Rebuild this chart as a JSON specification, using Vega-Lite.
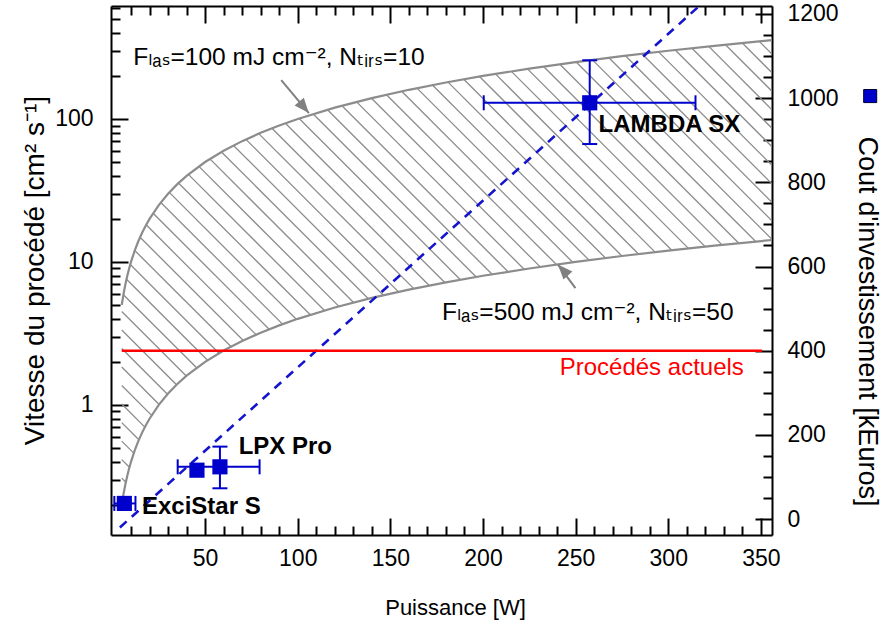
{
  "$schema": "https://vega.github.io/schema/vega-lite/v6.json",
  "width": 661,
  "height": 529,
  "autosize": "none",
  "padding": {"left": 111, "top": 6, "right": 112, "bottom": 93},
  "background": "white",
  "config": {
    "view": {"stroke": null},
    "axis": {
      "grid": false,
      "ticks": true,
      "tickColor": "black",
      "tickWidth": 2,
      "domainColor": "black",
      "domainWidth": 2,
      "labelColor": "black",
      "titleColor": "black",
      "labelFont": "Liberation Sans, Arial",
      "labelFontSize": 23,
      "titleFont": "Liberation Sans, Arial",
      "titleFontWeight": "normal",
      "zindex": 1,
      "labelOverlap": false,
      "labelFlush": false
    }
  },
  "datasets": {
    "curve": [
      {"P": 5, "up": 5, "lo": 0.2}, {"P": 6, "up": 6, "lo": 0.24}, {"P": 7, "up": 7, "lo": 0.28},
      {"P": 8, "up": 8, "lo": 0.32}, {"P": 9, "up": 9, "lo": 0.36}, {"P": 10, "up": 10, "lo": 0.4},
      {"P": 12, "up": 12, "lo": 0.48}, {"P": 14, "up": 14, "lo": 0.56}, {"P": 16, "up": 16, "lo": 0.64},
      {"P": 18, "up": 18, "lo": 0.72}, {"P": 20, "up": 20, "lo": 0.8}, {"P": 25, "up": 25, "lo": 1},
      {"P": 30, "up": 30, "lo": 1.2}, {"P": 35, "up": 35, "lo": 1.4}, {"P": 40, "up": 40, "lo": 1.6},
      {"P": 50, "up": 50, "lo": 2}, {"P": 60, "up": 60, "lo": 2.4}, {"P": 70, "up": 70, "lo": 2.8},
      {"P": 80, "up": 80, "lo": 3.2}, {"P": 90, "up": 90, "lo": 3.6}, {"P": 100, "up": 100, "lo": 4},
      {"P": 120, "up": 120, "lo": 4.8}, {"P": 140, "up": 140, "lo": 5.6}, {"P": 160, "up": 160, "lo": 6.4},
      {"P": 180, "up": 180, "lo": 7.2}, {"P": 200, "up": 200, "lo": 8}, {"P": 225, "up": 225, "lo": 9},
      {"P": 250, "up": 250, "lo": 10}, {"P": 275, "up": 275, "lo": 11}, {"P": 300, "up": 300, "lo": 12},
      {"P": 325, "up": 325, "lo": 13}, {"P": 356, "up": 356, "lo": 14.24}
    ],
    "hatch": [
      {"P1": 5, "v1": 0.2282, "P2": 5.60, "v2": 0.224},
      {"P1": 5, "v1": 0.3075, "P2": 7.20, "v2": 0.288},
      {"P1": 5, "v1": 0.4144, "P2": 9.15, "v2": 0.366},
      {"P1": 5, "v1": 0.5581, "P2": 11.49, "v2": 0.4596},
      {"P1": 5, "v1": 0.7520, "P2": 14.26, "v2": 0.5704},
      {"P1": 5, "v1": 1.0134, "P2": 17.47, "v2": 0.6988},
      {"P1": 5, "v1": 1.3653, "P2": 21.11, "v2": 0.8444},
      {"P1": 5, "v1": 1.8399, "P2": 25.19, "v2": 1.0076},
      {"P1": 5, "v1": 2.4796, "P2": 29.68, "v2": 1.1872},
      {"P1": 5, "v1": 3.3413, "P2": 34.57, "v2": 1.3828},
      {"P1": 5, "v1": 4.5019, "P2": 39.83, "v2": 1.5932},
      {"P1": 5.90, "v1": 5.90, "P2": 45.42, "v2": 1.8168},
      {"P1": 7.57, "v1": 7.57, "P2": 51.33, "v2": 2.0532},
      {"P1": 9.59, "v1": 9.59, "P2": 57.51, "v2": 2.3004},
      {"P1": 12.02, "v1": 12.02, "P2": 63.95, "v2": 2.558},
      {"P1": 14.88, "v1": 14.88, "P2": 70.62, "v2": 2.8248},
      {"P1": 18.18, "v1": 18.18, "P2": 77.50, "v2": 3.1},
      {"P1": 21.91, "v1": 21.91, "P2": 84.58, "v2": 3.3832},
      {"P1": 26.08, "v1": 26.08, "P2": 91.81, "v2": 3.6724},
      {"P1": 30.65, "v1": 30.65, "P2": 99.22, "v2": 3.9688},
      {"P1": 35.62, "v1": 35.62, "P2": 106.77, "v2": 4.2708},
      {"P1": 40.95, "v1": 40.95, "P2": 114.44, "v2": 4.5776},
      {"P1": 46.61, "v1": 46.61, "P2": 122.23, "v2": 4.8892},
      {"P1": 52.58, "v1": 52.58, "P2": 130.13, "v2": 5.2052},
      {"P1": 58.82, "v1": 58.82, "P2": 138.13, "v2": 5.5252},
      {"P1": 65.31, "v1": 65.31, "P2": 146.22, "v2": 5.8488},
      {"P1": 72.02, "v1": 72.02, "P2": 154.40, "v2": 6.176},
      {"P1": 78.95, "v1": 78.95, "P2": 162.65, "v2": 6.506},
      {"P1": 86.06, "v1": 86.06, "P2": 170.97, "v2": 6.8388},
      {"P1": 93.33, "v1": 93.33, "P2": 179.37, "v2": 7.1748},
      {"P1": 100.77, "v1": 100.77, "P2": 187.83, "v2": 7.5132},
      {"P1": 108.35, "v1": 108.35, "P2": 196.34, "v2": 7.8536},
      {"P1": 116.04, "v1": 116.04, "P2": 204.91, "v2": 8.1964},
      {"P1": 123.86, "v1": 123.86, "P2": 213.53, "v2": 8.5412},
      {"P1": 131.78, "v1": 131.78, "P2": 222.20, "v2": 8.888},
      {"P1": 139.80, "v1": 139.80, "P2": 230.90, "v2": 9.236},
      {"P1": 147.90, "v1": 147.90, "P2": 239.65, "v2": 9.586},
      {"P1": 156.10, "v1": 156.10, "P2": 248.45, "v2": 9.938},
      {"P1": 164.37, "v1": 164.37, "P2": 257.27, "v2": 10.2908},
      {"P1": 172.70, "v1": 172.70, "P2": 266.13, "v2": 10.6452},
      {"P1": 181.11, "v1": 181.11, "P2": 275.02, "v2": 11.0008},
      {"P1": 189.59, "v1": 189.59, "P2": 283.94, "v2": 11.3576},
      {"P1": 198.11, "v1": 198.11, "P2": 292.89, "v2": 11.7156},
      {"P1": 206.69, "v1": 206.69, "P2": 301.91, "v2": 12.0764},
      {"P1": 215.32, "v1": 215.32, "P2": 310.92, "v2": 12.4368},
      {"P1": 224.00, "v1": 224.00, "P2": 319.96, "v2": 12.7984},
      {"P1": 232.71, "v1": 232.71, "P2": 329.02, "v2": 13.1608},
      {"P1": 241.47, "v1": 241.47, "P2": 338.10, "v2": 13.524},
      {"P1": 250.27, "v1": 250.27, "P2": 347.20, "v2": 13.888},
      {"P1": 259.10, "v1": 259.10, "P2": 356.32, "v2": 14.2528},
      {"P1": 267.97, "v1": 267.97, "P2": 365.45, "v2": 14.618},
      {"P1": 276.87, "v1": 276.87, "P2": 374.6, "v2": 14.984},
      {"P1": 285.79, "v1": 285.79, "P2": 383.8, "v2": 15.352},
      {"P1": 294.75, "v1": 294.75, "P2": 393.0, "v2": 15.72},
      {"P1": 303.77, "v1": 303.77, "P2": 402.2, "v2": 16.088},
      {"P1": 312.79, "v1": 312.79, "P2": 411.4, "v2": 16.456},
      {"P1": 321.83, "v1": 321.83, "P2": 420.6, "v2": 16.824},
      {"P1": 330.90, "v1": 330.90, "P2": 429.9, "v2": 17.196},
      {"P1": 339.98, "v1": 339.98, "P2": 439.1, "v2": 17.564},
      {"P1": 349.09, "v1": 349.09, "P2": 448.4, "v2": 17.936}
    ],
    "arrows": [
      {"id": "a", "x1": 91.1, "y1": 187, "x2": 106, "y2": 110},
      {"id": "b", "x1": 249.9, "y1": 6.55, "x2": 240.4, "y2": 9.6}
    ],
    "notes": [
      {"P": 11.2, "v": 267, "label": "Fₗₐₛ=100 mJ cm⁻², Nₜᵢᵣₛ=10"},
      {"P": 177.9, "v": 4.38, "label": "Fₗₐₛ=500 mJ cm⁻², Nₜᵢᵣₛ=50"}
    ],
    "fit": [{"P": 4, "C": -20}, {"P": 320, "C": 1232}],
    "current": [{"P1": 5, "P2": 350.7, "C": 400}],
    "currentLabel": [{"P": 340.8, "C": 358, "label": "Procédés actuels"}],
    "machines": [
      {"P": 257.6, "C": 989}, {"P": 58, "C": 124}, {"P": 45.6, "C": 116}, {"P": 6.4, "C": 37}
    ],
    "hbars": [
      {"C": 989, "Plo": 200.4, "Phi": 314.7},
      {"C": 124, "Plo": 35.2, "Phi": 79.4},
      {"C": 37, "Plo": 1, "Phi": 12.4}
    ],
    "vbars": [
      {"P": 257.6, "Clo": 891, "Chi": 1090},
      {"P": 58, "Clo": 73, "Chi": 172}
    ],
    "names": [
      {"P": 262.4, "C": 936, "label": "LAMBDA SX"},
      {"P": 68.1, "C": 172, "label": "LPX Pro"},
      {"P": 15.9, "C": 29, "label": "ExciStar S"}
    ],
    "legendSym": [{"P": 409, "C": 1005}]
  },
  "layer": [
    {
      "resolve": {"axis": {"x": "independent", "y": "independent"}},
      "layer": [
        {
          "data": {"name": "hatch"},
          "mark": {"type": "rule", "color": "#8c8c8c", "strokeWidth": 1.3, "clip": true},
          "encoding": {
            "x": {
              "field": "P1", "type": "quantitative",
              "scale": {"domain": [-0.8, 356], "nice": false, "zero": false},
              "axis": {
                "orient": "bottom",
                "values": [50, 100, 150, 200, 250, 300, 350],
                "tickSize": -17,
                "labelPadding": 29,
                "title": "Puissance [W]",
                "titleFontSize": 22,
                "titleX": 344,
                "titleY": 72,
                "titleBaseline": "middle"
              }
            },
            "x2": {"field": "P2"},
            "y": {
              "field": "v1", "type": "quantitative",
              "scale": {"type": "log", "domain": [0.123, 617], "nice": false},
              "axis": {
                "orient": "left",
                "values": [1, 10, 100],
                "format": "d",
                "tickSize": -17,
                "labelPadding": 35,
                "title": "Vitesse du procédé [cm² s⁻¹]",
                "titleFontSize": 28,
                "titleAngle": 270,
                "titleX": -76,
                "titleY": 264,
                "titleAlign": "center",
                "titleBaseline": "middle"
              }
            },
            "y2": {"field": "v2"}
          }
        },
        {
          "data": {"name": "curve"},
          "mark": {"type": "line", "color": "#8c8c8c", "strokeWidth": 2.2, "clip": true},
          "encoding": {
            "x": {
              "field": "P", "type": "quantitative",
              "axis": {
                "orient": "bottom",
                "values": [10,20,30,40,60,70,80,90,110,120,130,140,160,170,180,190,210,220,230,240,260,270,280,290,310,320,330,340],
                "tickSize": -9,
                "labels": false,
                "domain": false,
                "title": null
              }
            },
            "y": {
              "field": "up", "type": "quantitative",
              "axis": {
                "orient": "left",
                "values": [0.2,0.3,0.4,0.5,0.6,0.7,0.8,0.9,2,3,4,5,6,7,8,9,20,30,40,50,60,70,80,90,200,300,400,500,600],
                "tickSize": -9,
                "labels": false,
                "domain": false,
                "title": null
              }
            }
          }
        },
        {
          "data": {"name": "curve"},
          "mark": {"type": "line", "color": "#8c8c8c", "strokeWidth": 2.2, "clip": true},
          "encoding": {
            "x": {"field": "P", "type": "quantitative", "axis": null},
            "y": {"field": "lo", "type": "quantitative", "axis": null}
          }
        },
        {
          "data": {"name": "arrows"},
          "mark": {"type": "rule", "color": "#808080", "strokeWidth": 2},
          "encoding": {
            "x": {"field": "x1", "type": "quantitative", "axis": null},
            "y": {"field": "y1", "type": "quantitative", "axis": null},
            "x2": {"field": "x2"},
            "y2": {"field": "y2"}
          }
        },
        {
          "data": {"name": "arrows"},
          "transform": [{"filter": "datum.id === 'a'"}],
          "mark": {"type": "point", "shape": "M0,0L-0.4,-1L0.4,-1Z", "filled": true, "color": "#808080", "opacity": 1, "size": 900, "angle": 320},
          "encoding": {
            "x": {"field": "x2", "type": "quantitative", "axis": null},
            "y": {"field": "y2", "type": "quantitative", "axis": null}
          }
        },
        {
          "data": {"name": "arrows"},
          "transform": [{"filter": "datum.id === 'b'"}],
          "mark": {"type": "point", "shape": "M0,0L-0.4,-1L0.4,-1Z", "filled": true, "color": "#808080", "opacity": 1, "size": 900, "angle": 137.6},
          "encoding": {
            "x": {"field": "x2", "type": "quantitative", "axis": null},
            "y": {"field": "y2", "type": "quantitative", "axis": null}
          }
        },
        {
          "data": {"name": "notes"},
          "mark": {"type": "text", "align": "left", "baseline": "middle", "font": "Liberation Sans, DejaVu Sans", "fontSize": 24.5, "color": "black"},
          "encoding": {
            "x": {"field": "P", "type": "quantitative", "axis": null},
            "y": {"field": "v", "type": "quantitative", "axis": null},
            "text": {"field": "label"}
          }
        }
      ]
    },
    {
      "resolve": {"axis": {"x": "independent", "y": "independent"}},
      "layer": [
        {
          "data": {"name": "fit"},
          "mark": {"type": "line", "color": "#1414cc", "strokeWidth": 2.6, "strokeDash": [9, 7], "clip": true},
          "encoding": {
            "x": {
              "field": "P", "type": "quantitative",
              "scale": {"domain": [-0.8, 356], "nice": false, "zero": false},
              "axis": {
                "orient": "top",
                "values": [50, 100, 150, 200, 250, 300, 350],
                "tickSize": -17,
                "labels": false,
                "title": null
              }
            },
            "y": {
              "field": "C", "type": "quantitative",
              "scale": {"domain": [-38, 1219], "nice": false, "zero": false},
              "axis": {
                "orient": "right",
                "values": [0, 200, 400, 600, 800, 1000, 1200],
                "format": "d",
                "tickSize": -17,
                "labelPadding": 32,
                "title": "Cout d'investissement [kEuros]",
                "titleFontSize": 27,
                "titleAngle": 90,
                "titleX": 94,
                "titleY": 315,
                "titleAlign": "center",
                "titleBaseline": "middle"
              }
            }
          }
        },
        {
          "data": {"name": "current"},
          "mark": {"type": "rule", "color": "#ff0000", "strokeWidth": 2.5},
          "encoding": {
            "x": {
              "field": "P1", "type": "quantitative",
              "axis": {
                "orient": "top",
                "values": [10,20,30,40,60,70,80,90,110,120,130,140,160,170,180,190,210,220,230,240,260,270,280,290,310,320,330,340],
                "tickSize": -9,
                "labels": false,
                "domain": false,
                "title": null
              }
            },
            "x2": {"field": "P2"},
            "y": {
              "field": "C", "type": "quantitative",
              "axis": {
                "orient": "right",
                "values": [50,100,150,250,300,350,450,500,550,650,700,750,850,900,950,1050,1100,1150],
                "tickSize": -9,
                "labels": false,
                "domain": false,
                "title": null
              }
            }
          }
        },
        {
          "data": {"name": "currentLabel"},
          "mark": {"type": "text", "align": "right", "baseline": "middle", "font": "Liberation Sans", "fontSize": 24, "color": "#ff0000"},
          "encoding": {
            "x": {"field": "P", "type": "quantitative", "axis": null},
            "y": {"field": "C", "type": "quantitative", "axis": null},
            "text": {"field": "label"}
          }
        },
        {
          "data": {"name": "hbars"},
          "mark": {"type": "rule", "color": "#0000cc", "strokeWidth": 2},
          "encoding": {
            "x": {"field": "Plo", "type": "quantitative", "axis": null},
            "x2": {"field": "Phi"},
            "y": {"field": "C", "type": "quantitative", "axis": null}
          }
        },
        {
          "data": {"name": "hbars"},
          "mark": {"type": "tick", "orient": "vertical", "color": "#0000cc", "size": 15, "thickness": 2, "opacity": 1},
          "encoding": {
            "x": {"field": "Plo", "type": "quantitative", "axis": null},
            "y": {"field": "C", "type": "quantitative", "axis": null}
          }
        },
        {
          "data": {"name": "hbars"},
          "mark": {"type": "tick", "orient": "vertical", "color": "#0000cc", "size": 15, "thickness": 2, "opacity": 1},
          "encoding": {
            "x": {"field": "Phi", "type": "quantitative", "axis": null},
            "y": {"field": "C", "type": "quantitative", "axis": null}
          }
        },
        {
          "data": {"name": "vbars"},
          "mark": {"type": "rule", "color": "#0000cc", "strokeWidth": 2},
          "encoding": {
            "x": {"field": "P", "type": "quantitative", "axis": null},
            "y": {"field": "Clo", "type": "quantitative", "axis": null},
            "y2": {"field": "Chi"}
          }
        },
        {
          "data": {"name": "vbars"},
          "mark": {"type": "tick", "orient": "horizontal", "color": "#0000cc", "size": 15, "thickness": 2, "opacity": 1},
          "encoding": {
            "x": {"field": "P", "type": "quantitative", "axis": null},
            "y": {"field": "Clo", "type": "quantitative", "axis": null}
          }
        },
        {
          "data": {"name": "vbars"},
          "mark": {"type": "tick", "orient": "horizontal", "color": "#0000cc", "size": 15, "thickness": 2, "opacity": 1},
          "encoding": {
            "x": {"field": "P", "type": "quantitative", "axis": null},
            "y": {"field": "Chi", "type": "quantitative", "axis": null}
          }
        },
        {
          "data": {"name": "machines"},
          "mark": {"type": "point", "shape": "square", "filled": true, "color": "#0000cc", "opacity": 1, "size": 230},
          "encoding": {
            "x": {"field": "P", "type": "quantitative", "axis": null},
            "y": {"field": "C", "type": "quantitative", "axis": null}
          }
        },
        {
          "data": {"name": "names"},
          "mark": {"type": "text", "align": "left", "baseline": "middle", "font": "Liberation Sans", "fontWeight": "bold", "fontSize": 24, "color": "black"},
          "encoding": {
            "x": {"field": "P", "type": "quantitative", "axis": null},
            "y": {"field": "C", "type": "quantitative", "axis": null},
            "text": {"field": "label"}
          }
        },
        {
          "data": {"name": "legendSym"},
          "mark": {"type": "point", "shape": "square", "filled": false, "fill": "#0000cc", "stroke": "#000033", "strokeWidth": 1, "opacity": 1, "size": 170, "clip": false},
          "encoding": {
            "x": {"field": "P", "type": "quantitative", "axis": null},
            "y": {"field": "C", "type": "quantitative", "axis": null}
          }
        }
      ]
    }
  ],
  "resolve": {"scale": {"x": "independent", "y": "independent"}}
}
